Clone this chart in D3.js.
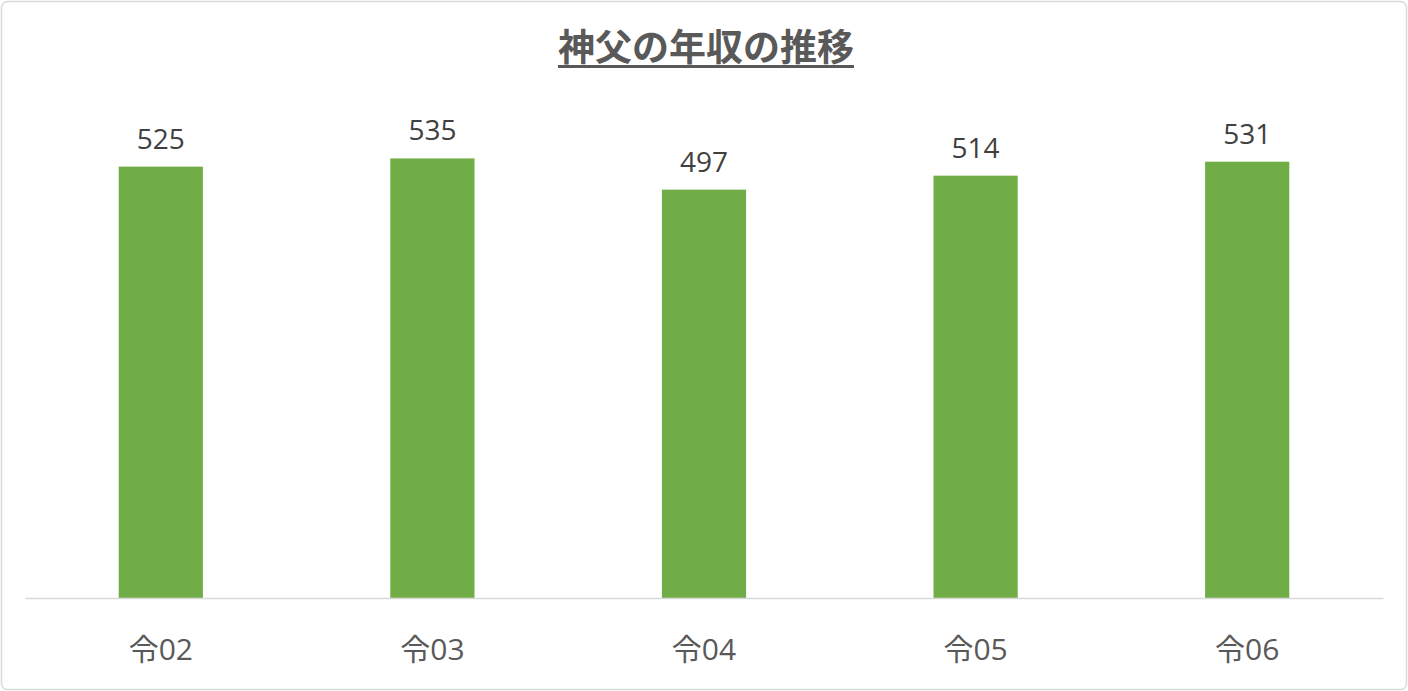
<!DOCTYPE html>
<html>
<head>
<meta charset="utf-8">
<script src="https://cdn.jsdelivr.net/npm/d3@7"></script>
<style>
  body { margin: 0; background: #fff; }
  text { font-family: "Open Sans", "Noto Sans CJK JP", sans-serif; }
</style>
</head>
<body>
<div id="chart"></div>
<script>
const title = "神父の年収の推移";
const categories = ["令02", "令03", "令04", "令05", "令06"];
const values = [525, 535, 497, 514, 531];
const yMax = 600;

const width = 1408, height = 691;
const margin = { top: 105, right: 25, bottom: 93, left: 25 };
const plotW = width - margin.left - margin.right;
const plotH = height - margin.top - margin.bottom;

const svg = d3.select("#chart").append("svg")
  .attr("width", width)
  .attr("height", height);

svg.append("rect")
  .attr("x", 1.5).attr("y", 1.5)
  .attr("width", width - 3).attr("height", height - 3)
  .attr("rx", 6)
  .attr("fill", "#fff")
  .attr("stroke", "#d9d9d9")
  .attr("stroke-width", 1.5);

const x = d3.scaleBand()
  .domain(categories)
  .range([0, plotW])
  .paddingInner(0.69)
  .paddingOuter(0.345);

const y = d3.scaleLinear()
  .domain([0, yMax])
  .range([plotH, 0]);

const g = svg.append("g")
  .attr("transform", `translate(${margin.left},${margin.top})`);

const data = categories.map((c, i) => ({ label: c, value: values[i] }));

g.selectAll(".bar")
  .data(data)
  .enter().append("rect")
  .attr("class", "bar")
  .attr("x", d => x(d.label))
  .attr("y", d => y(d.value))
  .attr("width", x.bandwidth())
  .attr("height", d => plotH - y(d.value))
  .attr("fill", "#70ad47");

g.selectAll(".val")
  .data(data)
  .enter().append("text")
  .attr("class", "val")
  .attr("x", d => x(d.label) + x.bandwidth() / 2)
  .attr("y", d => y(d.value) - 18)
  .attr("text-anchor", "middle")
  .attr("font-size", 28)
  .attr("fill", "#404040")
  .text(d => d.value);

const xAxis = g.append("g")
  .attr("transform", `translate(0,${plotH})`)
  .call(d3.axisBottom(x).tickSize(0).tickPadding(0));
xAxis.select(".domain").attr("stroke", "#d9d9d9").attr("stroke-width", 1.5);
xAxis.selectAll("text")
  .attr("font-size", 30)
  .attr("fill", "#595959")
  .attr("y", 62)
  .attr("dy", null)
  .style("font-family", '"Open Sans", "Noto Sans CJK JP", sans-serif');

const t = svg.append("text")
  .attr("x", width / 2 + 2)
  .attr("y", 61)
  .attr("text-anchor", "middle")
  .attr("font-size", 37)
  .attr("font-weight", "bold")
  .attr("fill", "#595959")
  .style("font-family", '"Noto Sans CJK JP", sans-serif')
  .text(title);

const bb = t.node().getBBox();
svg.append("rect")
  .attr("x", bb.x)
  .attr("y", 65)
  .attr("width", bb.width)
  .attr("height", 3)
  .attr("fill", "#595959");
</script>
</body>
</html>
